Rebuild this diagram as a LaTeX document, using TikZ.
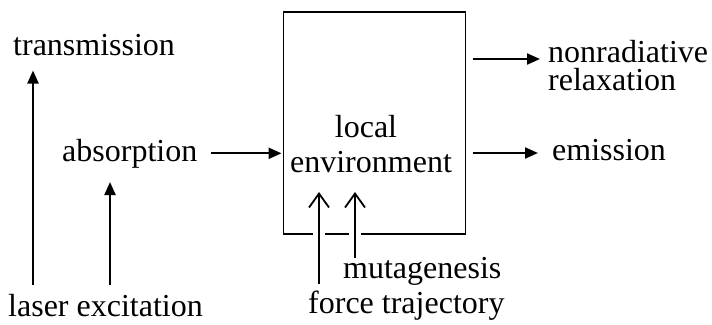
\documentclass[tikz,border=0pt]{standalone}
\usepackage{fontspec}
\setmainfont{Liberation Serif}
\usetikzlibrary{arrows.meta,calc}
\begin{document}
\begin{tikzpicture}[x=1pt,y=-1pt,
  lbl/.style={inner sep=0pt,font=\fontsize{32}{36}\selectfont},
  arr/.style={line width=2.2pt,-{Triangle[length=13pt,width=11pt]}},
  openarr/.style={line width=2.2pt,-{Straight Barb[length=14pt,width=20pt,line width=1.8pt]}},
  boxstyle/.style={draw,line width=1.4pt,inner sep=0pt,outer sep=0pt,minimum width=182pt,minimum height=222pt}]
\useasboundingbox[fill=white] (0,0) rectangle (712,324);
% box
\node[boxstyle] (box) at (374.5,123) {};
% texts
\node[lbl,anchor=base west] (trans) at (13,55) {transmission};
\node[lbl,anchor=base west] (absorb) at (62,161) {absorption};
\node[lbl,anchor=base west] (laser) at (8,316) {laser excitation};
\node[lbl,anchor=base] (local) at (366,137) {local};
\node[lbl,anchor=base] (env) at (371,172) {environment};
\node[lbl,anchor=base west] (nonrad) at (548,62) {nonradiative};
\node[lbl,anchor=base west] (relax) at (548,90) {relaxation};
\node[lbl,anchor=base west] (emis) at (552,160) {emission};
\node[lbl,anchor=base west] (mut) at (343,278) {mutagenesis};
\node[lbl,anchor=base west] (force) at (308,313) {force trajectory};
% left arrows
\coordinate (tbase) at ($(laser.north west)+(25,-9)$);
\draw[arr] (tbase) -- ($(tbase |- trans.south)+(0,15)$);
\coordinate (abase) at ($(laser.north west)+(102,-9)$);
\draw[arr] (abase) -- ($(abase |- absorb.south)+(0,14)$);
\draw[arr] ([xshift=14pt]absorb.east) -- ([xshift=-2pt]absorb.east -| box.west);
% right arrows
\draw[arr] ($(box.east |- nonrad.base)+(7,-3)$) -- ($(nonrad.base west)+(-8,-3)$);
\draw[arr] ($(box.east |- emis.base)+(7,-7)$) -- ($(emis.base west)+(-14,-7)$);
% bottom arrows
\coordinate (fbase) at ($(force.north west)+(11,-6)$);
\coordinate (mbase) at ($(mut.north west)+(12,1)$);
\path (fbase |- box.south) coordinate (fcross);
\path (mbase |- box.south) coordinate (mcross);
\fill[white] ([shift={(-6,-2)}]fcross) rectangle ([shift={(6,2)}]fcross);
\fill[white] ([shift={(-6,-2)}]mcross) rectangle ([shift={(6,2)}]mcross);
\draw[openarr] (fbase) -- ($(fcross)+(0,-42)$);
\draw[openarr] (mbase) -- ($(mcross)+(0,-42)$);
\end{tikzpicture}
\end{document}
